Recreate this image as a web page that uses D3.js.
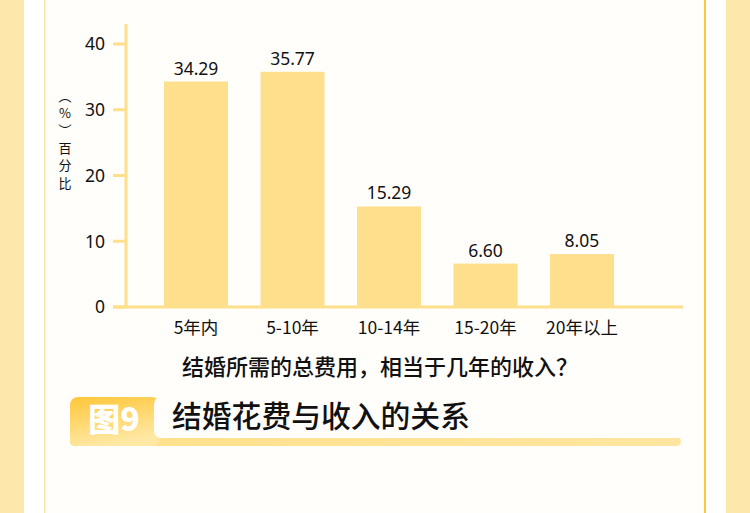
<!DOCTYPE html>
<html><head><meta charset="utf-8">
<script src="https://cdn.jsdelivr.net/npm/d3@7"></script>
<style>
html,body{margin:0;padding:0;background:#fff;}
svg{display:block;font-family:"Noto Sans CJK SC","Noto Sans",sans-serif;}
</style></head>
<body>
<svg id="chart" width="750" height="513"></svg>
<script>
const categories = ["5年内", "5-10年", "10-14年", "15-20年", "20年以上"];
const values = [34.29, 35.77, 15.29, 6.60, 8.05];
const yTicks = [0, 10, 20, 30, 40];
const yLabelChars = ["︵", "%", "︶", "百", "分", "比"];
const xTitle = "结婚所需的总费用，相当于几年的收入？";
const badgeText = "图9";
const chartTitle = "结婚花费与收入的关系";

const svg = d3.select("#chart");
const barColor = "#fedf8b";
const textColor = "#111";

// background frame
svg.append("rect").attr("x",0).attr("y",0).attr("width",750).attr("height",513).attr("fill","#fffefb");
svg.append("rect").attr("x",0).attr("y",0).attr("width",24).attr("height",513).attr("fill","#fee7aa");
svg.append("rect").attr("x",24).attr("y",0).attr("width",20).attr("height",513).attr("fill","#ffffff");
svg.append("rect").attr("x",44).attr("y",0).attr("width",1.5).attr("height",513).attr("fill","#ffe6a0");
svg.append("rect").attr("x",726).attr("y",0).attr("width",24).attr("height",513).attr("fill","#fee7aa");
svg.append("rect").attr("x",706).attr("y",0).attr("width",20).attr("height",513).attr("fill","#ffffff");
svg.append("rect").attr("x",704).attr("y",0).attr("width",2).attr("height",513).attr("fill","#ffc83c");

const y = d3.scaleLinear().domain([0, 40]).range([307, 44]);
const x = d3.scaleBand().domain(categories).range([126, 652]).paddingInner(0.337).paddingOuter(0.394);

// y axis line
svg.append("line").attr("x1",126).attr("x2",126).attr("y1",24).attr("y2",y(0))
  .attr("stroke",barColor).attr("stroke-width",3);
// y ticks
const yAxis = svg.append("g");
yAxis.selectAll("line.tick").data(yTicks).join("line")
  .attr("x1",113).attr("x2",126).attr("y1",d=>y(d)).attr("y2",d=>y(d))
  .attr("stroke",barColor).attr("stroke-width",3);
yAxis.selectAll("text").data(yTicks).join("text")
  .attr("x",105).attr("y",d=>y(d)).attr("dy","0.36em")
  .attr("text-anchor","end").attr("font-size",17.5).attr("fill",textColor)
  .attr("font-family","'Noto Sans',sans-serif")
  .text(d=>d);

// y label (vertical)
svg.append("g").selectAll("text").data(yLabelChars).join("text")
  .attr("x",65).attr("y",(d,i)=>96 + i*17.4).attr("dy","0.35em")
  .attr("text-anchor","middle").attr("font-size",13).attr("fill",textColor)
  .text(d=>d);

// bars
svg.append("g").selectAll("rect").data(values).join("rect")
  .attr("x",(d,i)=>x(categories[i])).attr("width",x.bandwidth())
  .attr("y",d=>y(d)).attr("height",d=>y(0)-y(d))
  .attr("fill",barColor);

// x axis line
svg.append("line").attr("x1",113).attr("x2",683).attr("y1",y(0)).attr("y2",y(0))
  .attr("stroke",barColor).attr("stroke-width",3);

// value labels
svg.append("g").selectAll("text").data(values).join("text")
  .attr("x",(d,i)=>x(categories[i])+x.bandwidth()/2).attr("y",d=>y(d)-7)
  .attr("text-anchor","middle").attr("font-size",17.5).attr("fill",textColor)
  .attr("font-family","'Noto Sans',sans-serif")
  .text(d=>d.toFixed(2));

// x labels
svg.append("g").selectAll("text").data(categories).join("text")
  .attr("x",d=>x(d)+x.bandwidth()/2).attr("y",328).attr("dy","0.35em")
  .attr("text-anchor","middle").attr("font-size",17.5).attr("fill",textColor)
  .text(d=>d);

// x title
svg.append("text").attr("x",380).attr("y",367).attr("dy","0.35em")
  .attr("text-anchor","middle").attr("font-size",22).attr("font-weight","500").attr("fill",textColor)
  .text(xTitle);

// title badge
const defs = svg.append("defs");
const g1 = defs.append("linearGradient").attr("id","badgeGrad").attr("x1","0").attr("y1","0").attr("x2","0.3").attr("y2","1");
g1.append("stop").attr("offset","0%").attr("stop-color","#ffc73a");
g1.append("stop").attr("offset","100%").attr("stop-color","#ffe8a4");
const g2 = defs.append("linearGradient").attr("id","stripGrad").attr("x1","0").attr("y1","0").attr("x2","1").attr("y2","0");
g2.append("stop").attr("offset","0%").attr("stop-color","#ffe08a");
g2.append("stop").attr("offset","100%").attr("stop-color","#ffe6a0");

svg.append("rect").attr("x",70).attr("y",437).attr("width",611).attr("height",9).attr("rx",4.5).attr("fill","url(#stripGrad)");
svg.append("rect").attr("x",70).attr("y",397).attr("width",90).attr("height",49).attr("rx",8).attr("fill","url(#badgeGrad)");
svg.append("rect").attr("x",154).attr("y",397).attr("width",540).attr("height",41).attr("rx",7).attr("fill","#fffefb");
svg.append("text").attr("x",114).attr("y",419).attr("dy","0.36em")
  .attr("text-anchor","middle").attr("font-size",32).attr("font-weight","900").attr("fill","#ffffff")
  .text(badgeText);
svg.append("text").attr("x",172).attr("y",416).attr("dy","0.36em")
  .attr("font-size",29.8).attr("font-weight","500").attr("fill","#111")
  .text(chartTitle);
</script>
</body></html>
